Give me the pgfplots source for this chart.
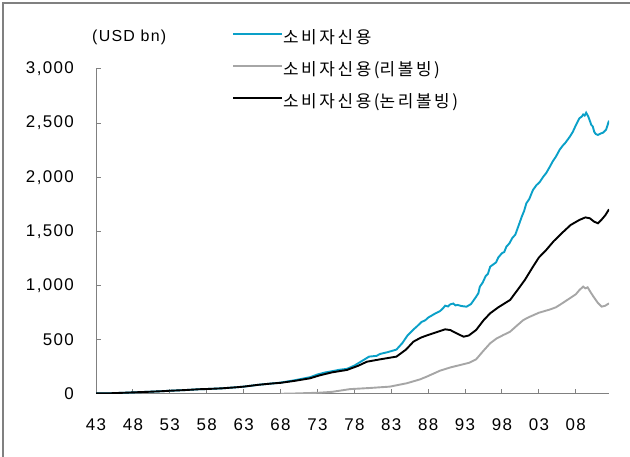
\documentclass[border=0pt]{standalone}
\usepackage{pgfplots}
\pgfplotsset{compat=1.18}
\usepackage{fontspec}
\setmainfont{Liberation Sans}
\newfontfamily\kr{Noto Sans CJK KR}
\newfontfamily\num[LetterSpace=8]{Liberation Sans}
\newcommand{\ks}{\kern2.6bp}
\definecolor{cyanl}{RGB}{10,160,200}
\definecolor{grayl}{RGB}{166,166,166}
\definecolor{axisg}{RGB}{128,128,128}
\begin{document}
\begin{tikzpicture}[x=1bp,y=1bp]
\path[use as bounding box] (0,0) rectangle (630,457);
\draw[axisg, line width=2bp] (3,0) -- (3,454) -- (630,454);
\node[anchor=west, inner sep=0pt, font=\num\fontsize{16}{19}\selectfont] at (92,420) {(USD bn)};
\begin{axis}[
 at={(96bp,63bp)}, anchor=south west, scale only axis, width=513bp, height=325bp,
 xmin=1943, xmax=2012.5, ymin=0, ymax=3000,
 axis x line*=bottom, axis y line*=left,
 axis line style={axisg, line width=1bp, -},
 xtick={1943,1948,...,2008},
 xticklabels={43,48,53,58,63,68,73,78,83,88,93,98,03,08},
 ytick={0,500,...,3000},
 tick align=inside, major tick length=5bp, tick style={axisg, line width=1bp},
 /pgf/number format/.cd, 1000 sep={,}, assume math mode=true, /pgfplots/.cd,
 yticklabel style={font=\num\fontsize{17}{20}\selectfont, anchor=east, inner sep=0pt, xshift=-22bp},
 xticklabel style={font=\num\fontsize{17}{20}\selectfont, anchor=north, inner sep=0pt, yshift=-24bp},
 legend style={at={(0.265,1.117)}, anchor=north west, draw=none, fill=none,
   font=\kr\fontsize{17}{20}\selectfont, row sep=17bp, inner sep=0pt,
   nodes={inner sep=0pt, text height=12bp, text depth=3bp}},
 legend cell align=left,
 legend image code/.code={\draw[#1] (0bp,5bp) -- (49bp,5bp);},
 every even column/.append style={column sep=5bp},
]
\addplot[cyanl, line width=1.9bp] coordinates {
(1943,5) (1945,7) (1947,12) (1948,15) (1950,20) (1952,26) (1953,30) (1955,36)
(1957,44) (1958,46) (1960,52) (1962,62) (1963,68) (1965,85) (1967,98) (1968,105)
(1970,128) (1972,155) (1973,180) (1974,198) (1975.1,212) (1976,224) (1977,232)
(1978,262) (1979.2,312) (1980,345) (1981,352) (1981.5,370) (1982.5,386) (1983.7,410)
(1984.5,470) (1985.2,540) (1986,595) (1986.5,625) (1987.1,665) (1987.6,680) (1988,705) (1989,745)
(1989.6,765) (1990,790) (1990.3,815) (1990.7,808) (1991,828) (1991.4,835) (1991.7,818) (1992,822) (1992.5,812)
(1993.2,806) (1993.8,830) (1994.5,898) (1994.8,930) (1995,990) (1995.4,1030) (1995.8,1090) (1996.1,1110) (1996.4,1175)
(1996.9,1200) (1997.2,1215) (1997.5,1260) (1998,1300) (1998.3,1310) (1998.6,1360) (1999,1390) (1999.4,1440)
(1999.8,1470) (2000.2,1545) (2000.7,1640) (2001,1690) (2001.3,1760) (2001.7,1800) (2002.2,1884)
(2002.7,1930) (2003.1,1955) (2003.6,2006) (2004,2040) (2004.5,2100) (2004.9,2150) (2005.3,2190) (2005.8,2253)
(2006.2,2290) (2006.6,2320) (2007.2,2376) (2007.6,2420) (2008,2480) (2008.5,2546) (2008.8,2560) (2009,2580) (2009.2,2570) (2009.4,2597)
(2009.7,2560) (2010.1,2484) (2010.3,2470) (2010.5,2420) (2010.7,2400) (2011,2391) (2011.4,2405) (2011.7,2412)
(2012.1,2440) (2012.5,2523)
};
\addlegendentry{소\ks 비\ks 자\ks 신\ks 용}
\addplot[grayl, line width=1.9bp] coordinates {
(1968,2) (1970,5) (1973.3,12) (1975,20) (1977.4,45) (1980,55) (1982.8,68)
(1985.1,99) (1986.9,135) (1987.8,160) (1989.6,215) (1991,245) (1993.6,289)
(1994.5,320) (1995.5,400) (1996.4,468) (1997.3,514) (1998.2,545) (1999.1,575) (2000,630) (2000.9,683)
(2001.8,714) (2003,750) (2004.5,780) (2005.3,800) (2006,830) (2007.2,884) (2008,920) (2008.5,960)
(2009,991) (2009.3,975) (2009.6,985) (2010,940) (2010.4,898) (2011,840) (2011.5,806) (2012,815) (2012.5,837)
};
\addlegendentry{소\ks 비\ks 자\ks 신\ks 용\ks (리\ks 볼\ks 빙\ks )}
\addplot[black, line width=1.9bp] coordinates {
(1943,5) (1945,7) (1947,12) (1948,15) (1950,20) (1952,26) (1953,30) (1955,36)
(1957,44) (1958,46) (1960,52) (1962,62) (1963,68) (1965,85) (1967,98) (1968,103)
(1970,122) (1972,145) (1973.3,172) (1975,200) (1977,222) (1978.5,260)
(1979.7,298) (1981.5,320) (1983.7,345) (1985,410) (1986,483) (1987,520)
(1988,545) (1989.1,570) (1990.3,597) (1991,590) (1992,555) (1992.8,529)
(1993.5,540) (1994.5,591) (1995.5,680) (1996.4,745) (1997.5,800) (1999.1,868)
(2000,950) (2001.1,1053) (2002.2,1175) (2003,1260) (2004,1330) (2005,1410)
(2006.1,1484) (2007.3,1560) (2008.5,1607) (2009.3,1630) (2009.9,1622)
(2010.5,1590) (2011,1576) (2011.5,1610) (2012,1650) (2012.5,1705)
};
\addlegendentry{소\ks 비\ks 자\ks 신\ks 용\ks (논\ks 리\ks 볼\ks 빙\ks )}
\end{axis}
\end{tikzpicture}
\end{document}
